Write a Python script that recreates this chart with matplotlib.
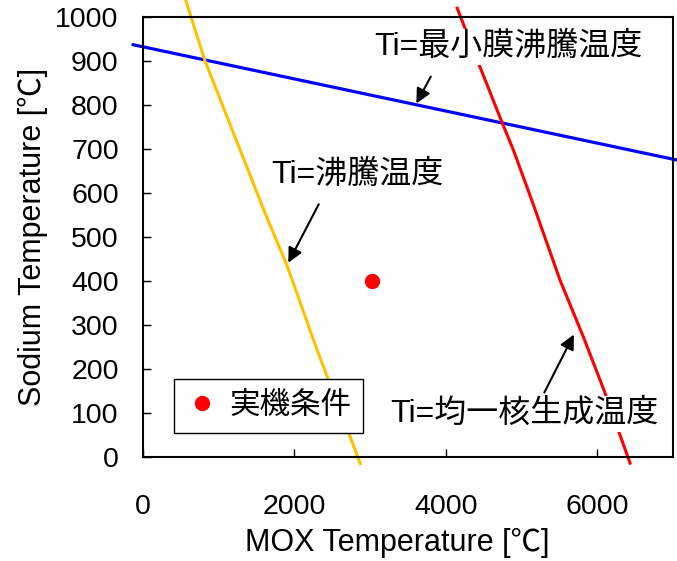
import matplotlib
matplotlib.use("Agg")
import matplotlib.pyplot as plt

plt.rcParams['font.family'] = ['Liberation Sans', 'Noto Sans CJK JP', 'DejaVu Sans']

# Ti = minimum film boiling temperature (blue)
blue_x = [-130, 7050]
blue_y = [937, 675]

# Ti = boiling temperature (gold)
gold_x = [560, 820, 1610, 1900, 2300, 2870]
gold_y = [1040, 900, 555, 436, 243, -15]

# Ti = homogeneous nucleation temperature (red)
red_x = [4150, 4452, 4738, 4891, 5134, 5508, 5816, 6077, 6433]
red_y = [1020, 886, 762, 698, 584, 402, 273, 157, -14]

# actual plant condition
plant_x = [3030]
plant_y = [400]

xticks = [0, 2000, 4000, 6000]
yticks = [0, 100, 200, 300, 400, 500, 600, 700, 800, 900, 1000]

fig = plt.figure(figsize=(6.77, 5.61), dpi=100)
ax = fig.add_axes([143 / 677, 1 - 457 / 561, 530 / 677, 440 / 561])

ax.plot(blue_x, blue_y, color='#0000FF', lw=2.3, clip_on=False, zorder=2)
ax.plot(gold_x, gold_y, color='#FFC000', lw=2.2, clip_on=False, zorder=2)
ax.plot(red_x, red_y, color='#FF0000', lw=2.2, clip_on=False, zorder=2)
ax.plot(plant_x, plant_y, 'o', color='#FF0000', ms=10, label='実機条件', zorder=3)

ax.set_xlim(0, 7000)
ax.set_ylim(0, 1000)
ax.set_xticks(xticks)
ax.set_yticks(yticks)
ax.tick_params(direction='in', length=6, width=1, labelsize=20.5)
ax.tick_params(axis='x', pad=26.5)
ax.tick_params(axis='y', pad=17.5)
for s in ax.spines.values():
    s.set_linewidth(1.5)

ax.set_xlabel('MOX Temperature [℃]', fontsize=22)
ax.set_ylabel('Sodium Temperature [℃]', fontsize=22)
ax.xaxis.set_label_coords(0.479, -0.161)
ax.yaxis.set_label_coords(-0.180, 0.5)

arrow = dict(arrowstyle='-|>', color='black', lw=1.5, mutation_scale=22)
box = dict(boxstyle='square,pad=0.08', fc='white', ec='none')

ax.text(4822, 932, 'Ti=最小膜沸騰温度', fontsize=23, ha='center', va='center',
        bbox=box, zorder=4)
ax.annotate('', xy=(3593, 798), xytext=(3818, 870), arrowprops=arrow, zorder=4)

ax.text(2830, 641, 'Ti=沸騰温度', fontsize=23, ha='center', va='center', zorder=4)
ax.annotate('', xy=(1902, 436), xytext=(2338, 580), arrowprops=arrow, zorder=4)

ax.text(5033, 98, 'Ti=均一核生成温度', fontsize=23, ha='center', va='center',
        bbox=box, zorder=4)
ax.annotate('', xy=(5707, 284), xytext=(5284, 141), arrowprops=arrow, zorder=4)

leg = ax.legend(loc='lower left', bbox_to_anchor=(31 / 530, 24 / 440),
                borderaxespad=0, fontsize=22, fancybox=False, framealpha=1,
                edgecolor='black', handlelength=1.0, handletextpad=0.4,
                borderpad=0.4, numpoints=1)
leg.get_frame().set_linewidth(1.0)
leg.set_zorder(5)

fig.savefig('out.png', dpi=100)
